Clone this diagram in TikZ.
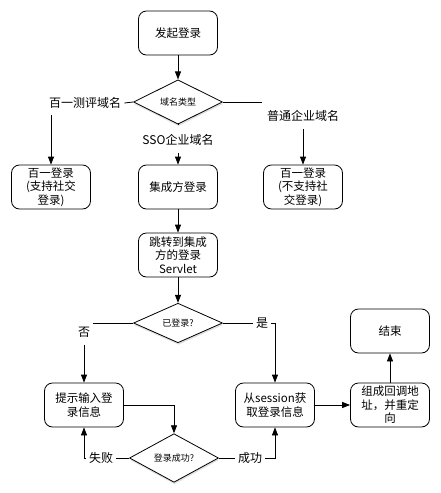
\documentclass[tikz,border=0pt]{standalone}
\usepackage{fontspec}
\setmainfont{Noto Sans CJK SC}
\usetikzlibrary{arrows.meta,shapes.geometric,shadows}

\begin{document}
\begin{tikzpicture}[x=1pt,y=-1pt,line width=0.8pt,
  box/.style={draw,rounded corners=8pt,minimum width=79pt,minimum height=44pt,
    inner sep=1pt,align=center,font=\fontsize{11.5}{13.5}\selectfont},
  choice/.style={draw,diamond,fill=white,minimum width=89pt,minimum height=36pt,
    inner sep=0pt,font=\fontsize{9}{10}\selectfont,
    drop shadow={shadow xshift=0.5pt,shadow yshift=-2pt,opacity=0.25}},
  lbl/.style={font=\fontsize{12}{14}\selectfont,inner sep=3pt},
  arr/.style={-{Triangle[length=8pt,width=6pt]}}]
  \useasboundingbox (0,0) rectangle (441,493);
  % nodes
  \node[box] (start) at (178,33) {发起登录};
  \node[choice] (kind) at (178,102) {域名类型};
  \node[lbl] (lbBaiyi) at (85,103) {百一测评域名};
  \node[lbl] (lbSso) at (178,140) {SSO企业域名};
  \node[lbl] (lbCommon) at (303,116) {普通企业域名};
  \coordinate (commonEnd) at (262,102);
  \node[box] (baiyi) at (51,187) {百一登录\\(支持社交\\登录)};
  \node[box] (sso) at (178,187) {集成方登录};
  \node[box] (common) at (303,187) {百一登录\\(不支持社\\交登录)};
  \node[box] (servlet) at (178,255) {跳转到集成\\方的登录\\Servlet};
  \node[choice] (logged) at (178,323) {已登录?};
  \node[lbl] (lbNo) at (84,332) {否};
  \node[lbl] (lbYes) at (262,323) {是};
  \node[box] (input) at (84,405) {提示输入登\\录信息};
  \node[box] (session) at (275,405) {从session获\\取登录信息};
  \node[box] (redirect) at (390,405) {组成回调地\\址，并重定\\向};
  \node[box] (finish) at (390,331) {结束};
  \node[choice] (ok) at (174,458) {登录成功?};
  \node[lbl] (lbFail) at (101,458) {失败};
  \node[lbl] (lbSucc) at (250,458) {成功};
  % connectors
  \draw[arr] (start) -- (kind);
  \draw (kind.west) -- (lbBaiyi.east);
  \draw[arr,shorten <=3pt] (baiyi.north |- lbBaiyi.south) -- (baiyi);
  \draw[shorten >=8pt] (kind.south) -- (lbSso.north);
  \draw[arr,shorten <=4pt] (lbSso) -- (sso);
  \draw (kind.east) -- (commonEnd);
  \draw[arr,shorten <=4pt] (lbCommon) -- (common);
  \draw[arr] (sso) -- (servlet);
  \draw[arr] (servlet) -- (logged);
  \draw (logged.west) -- (logged.west -| lbNo.north east);
  \draw[arr,shorten <=4pt] (lbNo) -- (input);
  \draw (logged.east) -- (lbYes.west);
  \draw[arr] (lbYes.east) -| (session.north);
  \draw[arr] (input.east) -| (ok.north);
  \draw (ok.west) -- (lbFail.east);
  \draw[arr] (lbFail.west) -| (input.south);
  \draw (ok.east) -- (lbSucc.west);
  \draw[arr] (lbSucc.east) -| (session.south);
  \draw[arr] (session) -- (redirect);
  \draw[arr] (redirect) -- (finish);
\end{tikzpicture}
\end{document}
